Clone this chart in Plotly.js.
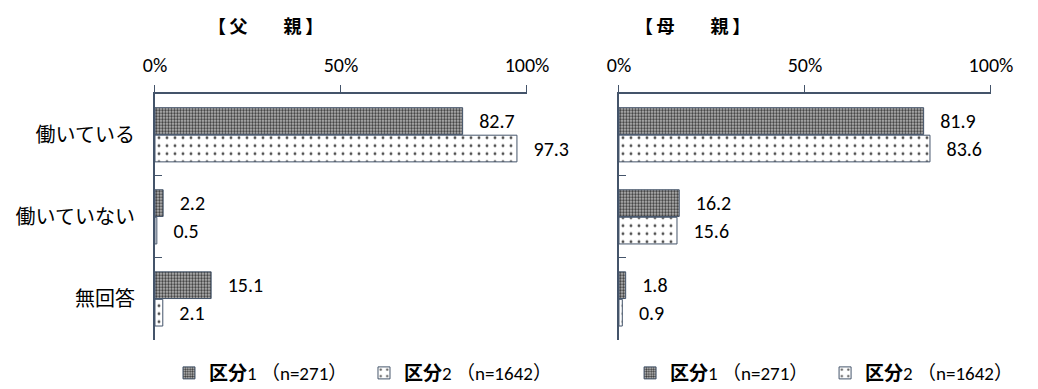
<!DOCTYPE html>
<html>
<head>
<meta charset="utf-8">
<script src="https://cdn.plot.ly/plotly-3.0.1.min.js"></script>
<style>html,body{margin:0;padding:0;background:#fff;}#chart{width:1038px;height:389px;}</style>
</head>
<body>
<div id="chart"></div>
<script>
const categories = ["働いている", "働いていない", "無回答"];
const seriesNames = ["<b>区分</b>1 （n=271）", "<b>区分</b>2 （n=1642）"];
const fatherS1 = [82.7, 2.2, 15.1];
const fatherS2 = [97.3, 0.5, 2.1];
const motherS1 = [81.9, 16.2, 1.8];
const motherS2 = [83.6, 15.6, 0.9];
const panelTitles = ["【\u2009父　　親\u2009】", "【\u2009母　　親\u2009】"];
const tickVals = [0, 50, 100];
const tickText = ["0%", "50%", "100%"];

const numFont = "Carlito, Calibri, Lato, 'Noto Sans CJK JP', sans-serif";
const cjkFont = "'Noto Sans CJK JP', sans-serif";
const lineCol = "#44546A";

const s1Marker = {
  color: "#999999",
  line: {color: lineCol, width: 1},
  pattern: {shape: ".", fgcolor: "#3a3a3a", bgcolor: "#c4c4c4", size: 3, solidity: 0.5}
};
const s2Marker = {
  color: "#ffffff",
  line: {color: lineCol, width: 1},
  pattern: {shape: ".", fgcolor: "#505050", bgcolor: "#ffffff", size: 8, solidity: 0.1}
};

function bar(x, name, marker, xa, ya, legend, show) {
  return {
    type: "bar", orientation: "h",
    x: x, y: categories, name: name,
    xaxis: xa, yaxis: ya, legend: legend, showlegend: show,
    marker: marker,
    text: x.map(v => "\u00a0\u00a0\u00a0" + v.toFixed(1)),
    textposition: "outside",
    textfont: {family: numFont, size: 20, color: "#000"},
    cliponaxis: false,
    hoverinfo: "x+y"
  };
}

const data = [
  bar(fatherS1, seriesNames[0], s1Marker, "x", "y", "legend", true),
  bar(fatherS2, seriesNames[1], s2Marker, "x", "y", "legend", true),
  bar(motherS1, seriesNames[0], s1Marker, "x2", "y2", "legend2", true),
  bar(motherS2, seriesNames[1], s2Marker, "x2", "y2", "legend2", true)
];

function xax(domain, anchor) {
  return {
    domain: domain, anchor: anchor, side: "top", range: [0, 100], fixedrange: true,
    automargin: false,
    tickvals: tickVals, ticktext: tickText,
    ticks: "outside", ticklen: 7, tickcolor: lineCol, tickwidth: 1,
    showline: true, linecolor: lineCol, linewidth: 1.5,
    showgrid: false, zeroline: false,
    tickfont: {family: numFont, size: 20, color: "#000"},
    ticklabelstandoff: 5
  };
}
function yax(domain, anchor, showLabels) {
  return {
    domain: domain, anchor: anchor, type: "category",
    autorange: "reversed", fixedrange: true, automargin: false,
    tickson: "boundaries", ticks: "inside", ticklen: 7, tickcolor: lineCol, tickwidth: 1,
    showline: true, linecolor: lineCol, linewidth: 2,
    showgrid: false, zeroline: false,
    showticklabels: showLabels,
    tickfont: {family: cjkFont, size: 20, color: "#000"},
    ticklabelstandoff: 14
  };
}

const legendBase = {
  orientation: "h", yanchor: "middle", y: 0.041, xanchor: "left",
  font: {family: numFont, size: 19, color: "#000"},
  bgcolor: "rgba(0,0,0,0)", itemwidth: 30, traceorder: "normal",
  entrywidth: 150, entrywidthmode: "pixels"
};

const layout = {
  width: 1038, height: 389,
  margin: {l: 0, r: 0, t: 0, b: 0, autoexpand: false},
  paper_bgcolor: "#fff", plot_bgcolor: "#fff",
  barmode: "group", bargap: 0.33, bargroupgap: 0.03,
  xaxis: xax([0.1493, 0.5077], "y"),
  yaxis: yax([0.126, 0.759], "x", true),
  xaxis2: xax([0.5963, 0.9547], "y2"),
  yaxis2: yax([0.126, 0.759], "x2", false),
  legend: Object.assign({}, legendBase, {x: 0.1628}),
  legend2: Object.assign({}, legendBase, {x: 0.607}),
  annotations: [
    {xref: "paper", yref: "paper", x: 265/1038, y: 1 - 25/389, xanchor: "center", yanchor: "middle",
     text: "<b>" + panelTitles[0] + "</b>", showarrow: false, font: {family: cjkFont, size: 18, color: "#000"}},
    {xref: "paper", yref: "paper", x: 692/1038, y: 1 - 25/389, xanchor: "center", yanchor: "middle",
     text: "<b>" + panelTitles[1] + "</b>", showarrow: false, font: {family: cjkFont, size: 18, color: "#000"}}
  ],
  showlegend: true
};

Plotly.newPlot("chart", data, layout, {staticPlot: true, displayModeBar: false});
</script>
</body>
</html>
